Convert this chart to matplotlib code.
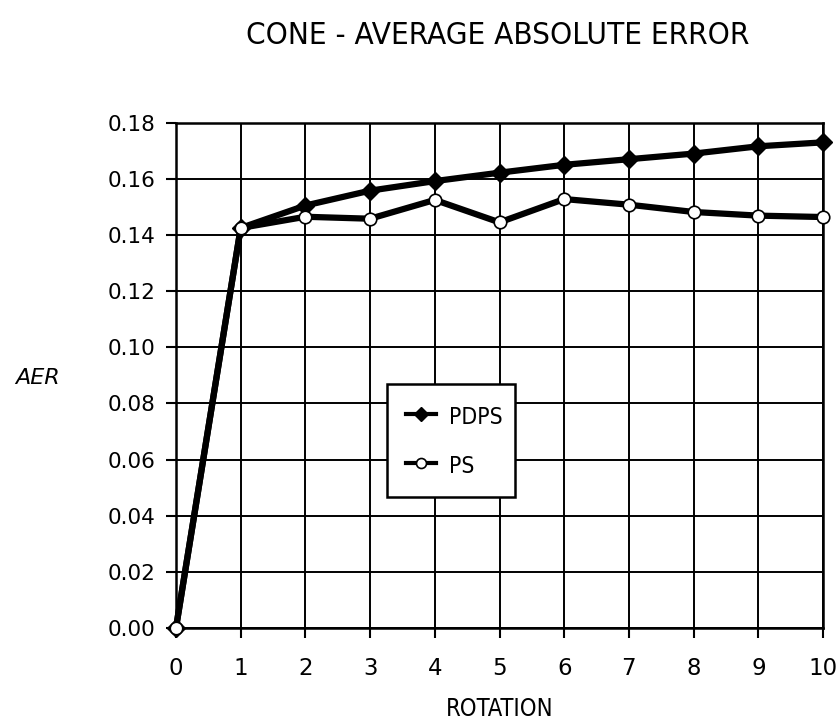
import matplotlib.pyplot as plt
import numpy as np

# data
rotation = [0, 1, 2, 3, 4, 5, 6, 7, 8, 9, 10]
pdps = [0.000, 0.1425, 0.1505, 0.1558, 0.1592, 0.1622, 0.1650, 0.1670, 0.1690, 0.1716, 0.1730]
ps = [0.000, 0.1425, 0.1465, 0.1458, 0.1525, 0.1445, 0.1528, 0.1508, 0.1482, 0.1469, 0.1464]
yticks = [0.00, 0.02, 0.04, 0.06, 0.08, 0.10, 0.12, 0.14, 0.16, 0.18]

plt.rcParams['font.family'] = ['DejaVu Sans']

fig = plt.figure(figsize=(8.4, 7.24), dpi=100)
ax = fig.add_axes([0.2095, 0.1326, 0.7703, 0.6979])

ax.plot(rotation, pdps, color='black', lw=4.5, marker='D', ms=9,
        mfc='black', mec='black', label='PDPS', zorder=3, clip_on=False)
ax.plot(rotation, ps, color='black', lw=4.5, marker='o', ms=9,
        mfc='white', mec='black', mew=1.2, label='PS', zorder=4, clip_on=False)

ax.set_xlim(0, 10)
ax.set_ylim(0, 0.18)
ax.set_xticks(rotation)
ax.set_yticks(yticks)
ax.set_yticklabels(['%.2f' % v for v in yticks])
ax.grid(True, color='black', lw=1.4)
for s in ax.spines.values():
    s.set_linewidth(1.8)
ax.tick_params(axis='both', direction='out', length=7, width=1.5, pad=8)
ax.tick_params(axis='y', labelsize=15.5)
ax.tick_params(axis='x', labelsize=16.5, pad=14)

fig.text(0.592, 0.951, 'CONE - AVERAGE ABSOLUTE ERROR', ha='center', va='center',
         fontsize=22.5, fontstretch='condensed')
fig.text(0.045, 0.478, 'AER', ha='center', va='center', fontsize=16, style='italic')
ax.set_xlabel('ROTATION', fontsize=17, fontstretch='condensed', labelpad=12)

leg = ax.legend(loc='upper left', bbox_to_anchor=(0.326, 0.483, 0.198, 0.0),
                mode='expand', prop={'size': 16.5, 'stretch': 'condensed'},
                frameon=True, fancybox=False,
                edgecolor='black', framealpha=1, handlelength=1.27,
                handleheight=1.3, handletextpad=0.57, labelspacing=1.05,
                borderpad=0.85, borderaxespad=0, markerscale=0.8)
leg.get_frame().set_linewidth(1.8)
for l in leg.get_lines():
    l.set_linewidth(3)

fig.savefig('out.png', dpi=100)
